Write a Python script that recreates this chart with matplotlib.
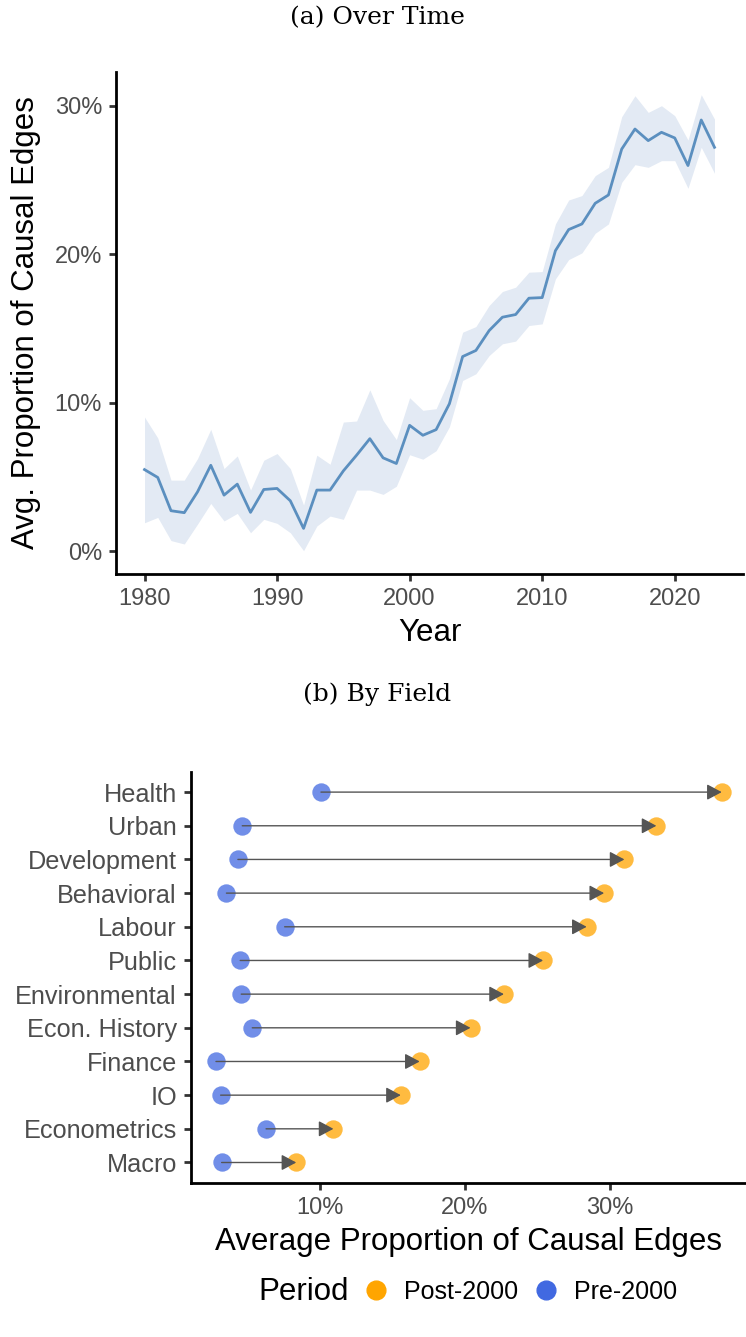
import matplotlib
matplotlib.use("Agg")
import matplotlib.pyplot as plt
from matplotlib.lines import Line2D
from matplotlib.ticker import FuncFormatter
import numpy as np

plt.rcParams["font.family"] = ["Liberation Sans", "DejaVu Sans"]

# ─────────── data: panel (a) ───────────
years = np.arange(1980, 2024)
avg_prop = [5.50, 4.97, 2.73, 2.60, 4.00, 5.79, 3.78, 4.52, 2.62, 4.16,
            4.23, 3.40, 1.54, 4.12, 4.12, 5.41, 6.47, 7.58, 6.29, 5.91,
            8.48, 7.81, 8.19, 9.93, 13.11, 13.52, 14.86, 15.76, 15.94, 17.04,
            17.08, 20.24, 21.66, 22.04, 23.43, 23.99, 27.08, 28.43, 27.65, 28.21,
            27.83, 25.97, 29.04, 27.20]
ci_upper = [9.04, 7.63, 4.79, 4.79, 6.24, 8.21, 5.57, 6.42, 4.12, 6.13,
            6.58, 5.57, 3.11, 6.47, 5.86, 8.70, 8.77, 10.87, 8.81, 7.52,
            10.34, 9.49, 9.60, 11.61, 14.75, 15.13, 16.55, 17.49, 17.78, 18.79,
            18.83, 22.04, 23.65, 23.95, 25.29, 25.85, 29.26, 30.67, 29.55, 30.00,
            29.33, 27.69, 30.74, 29.10]
ci_lower = [1.92, 2.28, 0.72, 0.49, 1.83, 3.22, 2.04, 2.55, 1.25, 2.15,
            1.88, 1.25, 0.04, 1.70, 2.37, 2.15, 4.12, 4.12, 3.83, 4.38,
            6.50, 6.20, 6.77, 8.38, 11.50, 11.95, 13.18, 13.97, 14.15, 15.20,
            15.31, 18.34, 19.64, 20.09, 21.41, 22.04, 24.84, 26.03, 25.85, 26.30,
            26.30, 24.44, 27.20, 25.45]

# ─────────── data: panel (b) ───────────
fields = ["Health", "Urban", "Development", "Behavioral", "Labour", "Public",
          "Environmental", "Econ. History", "Finance", "IO", "Econometrics", "Macro"]
pre_2000 = [10.1, 4.68, 4.38, 3.59, 7.6, 4.54, 4.61, 5.37, 2.87, 3.19, 6.32, 3.26]
post_2000 = [37.7, 33.2, 31.0, 29.6, 28.4, 25.4, 22.7, 20.4, 16.9, 15.6, 10.96, 8.4]

TICK_GREY = "#4d4d4d"
ORANGE = "#ffa500"
BLUE = "#4169e1"

fig = plt.figure(figsize=(7.46, 13.37), dpi=100)
W, H = 746, 1337


def style_axes(ax):
    for s in ["top", "right"]:
        ax.spines[s].set_visible(False)
    for s in ["left", "bottom"]:
        ax.spines[s].set_linewidth(2)
        ax.spines[s].set_color("black")
    ax.tick_params(axis="both", length=5, width=2, color="#333333",
                   labelsize=17, labelcolor=TICK_GREY, pad=5)


pct_fmt = FuncFormatter(lambda v, _: f"{v:.0f}%")

# ─────────── (a) over time ───────────
ax1 = fig.add_axes([116 / W, 1 - 574 / H, 627 / W, 502 / H])
ax1.fill_between(years, ci_lower, ci_upper, color="#e3eaf4", lw=0)
ax1.plot(years, avg_prop, color="#5b8fbf", lw=2)
ax1.set_xlim(1977.85, 2025.15)
ax1.set_ylim(-1.53, 32.27)
ax1.set_xticks([1980, 1990, 2000, 2010, 2020])
ax1.set_yticks([0, 10, 20, 30])
ax1.yaxis.set_major_formatter(pct_fmt)
style_axes(ax1)
ax1.set_xlabel("Year", fontsize=22.5, labelpad=6)
ax1.set_ylabel("Avg. Proportion of Causal Edges", fontsize=22.5, labelpad=10)

fig.text(0.506, 1 - 18 / H, "(a) Over Time", family="DejaVu Serif",
         fontsize=18, ha="center", va="center")

# ─────────── (b) by field ───────────
ax2 = fig.add_axes([190.7 / W, 1 - 1182.7 / H, (747 - 190.7) / W, 410.8 / H])
ypos = np.arange(len(fields))[::-1] + 1
ax2.scatter(post_2000, ypos, s=175, color=ORANGE, alpha=0.75, lw=0, zorder=2)
ax2.scatter(pre_2000, ypos, s=175, color=BLUE, alpha=0.75, lw=0, zorder=2)
for a, b, y in zip(pre_2000, post_2000, ypos):
    ax2.annotate("", xy=(b, y), xytext=(a, y),
                 arrowprops=dict(arrowstyle="-|>,head_length=0.6,head_width=0.32",
                                 color="#555555", lw=1.0, mutation_scale=15,
                                 shrinkA=0, shrinkB=0),
                 zorder=3)
ax2.set_xlim(1.13, 39.44)
ax2.set_ylim(0.4, 12.6)
ax2.set_yticks(ypos)
ax2.set_yticklabels(fields)
ax2.set_xticks([10, 20, 30])
ax2.xaxis.set_major_formatter(pct_fmt)
style_axes(ax2)
ax2.tick_params(axis="y", labelsize=18.2)
ax2.set_xlabel("Average Proportion of Causal Edges", fontsize=22.5, labelpad=6)

fig.text(0.506, 1 - 694 / H, "(b) By Field", family="DejaVu Serif",
         fontsize=18, ha="center", va="center")

# legend
fig.text(258 / W, 1 - 1292 / H, "Period", fontsize=22.5, ha="left", va="center")
handles = [Line2D([], [], marker="o", ls="", color=ORANGE, markersize=13.5),
           Line2D([], [], marker="o", ls="", color=BLUE, markersize=13.5)]
fig.legend(handles, ["Post-2000", "Pre-2000"], ncol=2, frameon=False,
           loc="center left", bbox_to_anchor=(341 / W, 1 - 1292 / H),
           fontsize=18, handletextpad=0.6, columnspacing=0.65, handlelength=1.0)

fig.savefig("out.png", dpi=100, facecolor="white")
